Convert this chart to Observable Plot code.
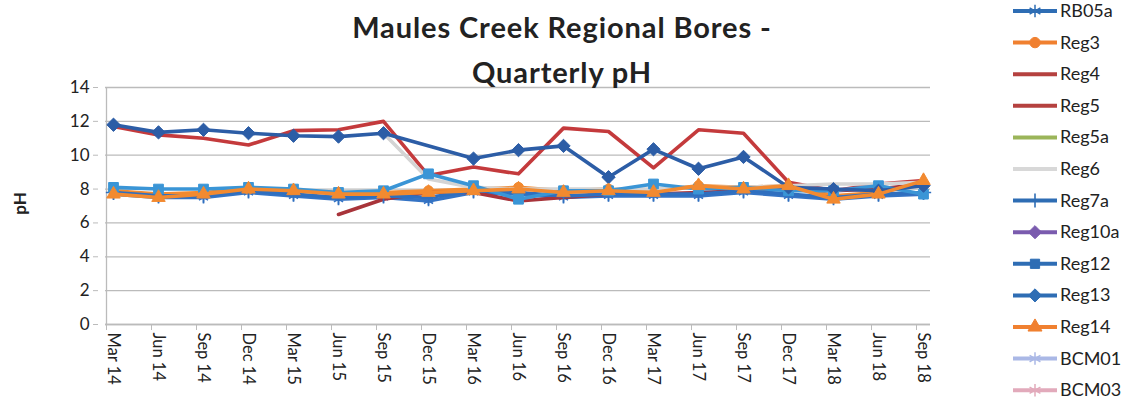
<!DOCTYPE html>
<html><head><meta charset="utf-8">
<script src="https://cdn.jsdelivr.net/npm/d3@7"></script>
<script src="https://cdn.jsdelivr.net/npm/@observablehq/plot@0.6"></script>
<style>
body{margin:0;background:#fff;font-family:Lato,"Open Sans",sans-serif;}
#wrap{position:relative;width:1131px;height:401px;overflow:hidden;background:#fff;}
#chart{position:absolute;left:0;top:0;}
.title{position:absolute;left:262px;width:600px;text-align:center;font-weight:bold;font-size:29px;letter-spacing:0.9px;color:#222;line-height:1;}
#ylab{position:absolute;left:8px;top:193px;font-weight:bold;font-size:17px;color:#222;transform:rotate(-90deg);}
#legend{position:absolute;left:1008px;top:0;}
</style></head>
<body>
<div id="wrap">
  <div id="chart"></div>
  <div class="title" style="top:12px">Maules Creek Regional Bores -</div>
  <div class="title" style="top:57px">Quarterly pH</div>
  <div id="ylab">pH</div>
  <div id="legend"></div>
</div>
<script>
const quarters = ["Mar 14","Jun 14","Sep 14","Dec 14","Mar 15","Jun 15","Sep 15","Dec 15","Mar 16","Jun 16","Sep 16","Dec 16","Mar 17","Jun 17","Sep 17","Dec 17","Mar 18","Jun 18","Sep 18"];
const yTicks = [0,2,4,6,8,10,12,14];

const RB05a  = [7.7,7.5,7.5,7.8,7.6,7.4,7.5,7.3,7.8,7.7,7.5,7.6,7.6,7.6,7.8,7.6,7.4,7.6,7.7];
const Reg3   = [7.9,7.7,7.8,8.0,7.9,7.8,7.8,7.9,8.0,8.1,7.9,8.0,7.9,8.2,8.1,8.2,7.6,7.8,8.3];
const Reg4   = [11.7,11.2,11.0,10.6,11.45,11.5,12.0,8.8,9.3,8.9,11.6,11.4,9.25,11.5,11.3,8.4,7.9,8.3,8.5];
const Reg5   = [null,null,null,null,null,6.5,7.4,7.8,7.8,7.3,7.5,7.7,7.7,7.8,7.9,8.0,7.9,8.0,8.3];
const Reg5a  = [null,null,null,null,null,null,null,null,null,null,null,null,null,null,null,null,null,null,null];
const Reg6   = [null,null,null,null,null,null,11.3,8.6,8.1,8.0,8.0,8.0,8.0,8.1,8.1,8.2,8.3,8.3,8.4];
const Reg7a  = [7.8,7.6,7.6,7.9,7.7,7.5,7.6,7.5,7.9,7.8,7.6,7.7,7.7,7.7,7.9,7.7,7.5,7.7,7.8];
const Reg10a = [null,null,null,null,null,null,null,null,null,null,null,null,null,null,null,null,null,null,null];
const Reg12  = [8.1,8.0,8.0,8.1,8.0,7.8,7.9,8.9,8.2,7.4,7.9,7.9,8.3,8.0,8.1,7.9,7.9,8.2,7.7];
const Reg13  = [11.8,11.35,11.5,11.3,11.15,11.1,11.3,null,9.8,10.3,10.55,8.7,10.35,9.2,9.9,8.1,8.0,7.9,8.2];
const Reg14  = [7.7,7.5,7.7,8.0,7.9,7.7,7.7,7.8,7.9,8.0,7.8,7.9,7.8,8.2,8.0,8.2,7.4,7.7,8.5];
const BCM01  = [null,null,null,null,null,null,null,null,null,null,null,null,null,null,null,null,null,null,null];
const BCM03  = [null,null,null,null,null,null,null,null,null,null,null,null,null,null,null,null,null,null,null];

const series = [
  {name:"RB05a", values:RB05a, color:"#3473C4", legendColor:"#2E6DB4", symbol:"asterisk"},
  {name:"Reg3", values:Reg3, color:"#F28A30", legendColor:"#F08030", symbol:"circle"},
  {name:"Reg4", values:Reg4, color:"#C43A3C", legendColor:"#B5413F", symbol:null},
  {name:"Reg5", values:Reg5, color:"#A8343A", legendColor:"#B5413F", symbol:null},
  {name:"Reg5a", values:Reg5a, color:"#9BB55A", legendColor:"#9BB55A", symbol:null},
  {name:"Reg6", values:Reg6, color:"#D4D4D4", legendColor:"#D8D8D8", symbol:null},
  {name:"Reg7a", values:Reg7a, color:"#2F6FBF", legendColor:"#2E6DB4", symbol:"plus"},
  {name:"Reg10a", values:Reg10a, color:"#7A5BAE", legendColor:"#7A5BAE", symbol:"diamond2"},
  {name:"Reg12", values:Reg12, color:"#3A95D6", legendColor:"#2E6DB4", symbol:"square"},
  {name:"Reg13", values:Reg13, color:"#2C5DA6", legendColor:"#2E6DB4", symbol:"diamond2"},
  {name:"Reg14", values:Reg14, color:"#F28A30", legendColor:"#F08030", symbol:"triangle"},
  {name:"BCM01", values:BCM01, color:"#AAB8E6", legendColor:"#AAB8E6", symbol:"asterisk"},
  {name:"BCM03", values:BCM03, color:"#E2AABB", legendColor:"#E2AABB", symbol:"asterisk"}
];
const strokeSymbols = new Set(["asterisk","plus","times"]);

const marks = [
  Plot.gridY(yTicks, {stroke:"#BBBBBB", strokeOpacity:1, strokeWidth:1.3}),
  Plot.ruleX([quarters[0]], {stroke:"#BBBBBB", strokeWidth:1.3, dx:-7}),
  Plot.ruleY([0], {stroke:"#BBBBBB", strokeWidth:1.3})
];
for (const s of series) {
  const rows = s.values.map((v,i)=>({q:quarters[i], v})).filter(d=>d.v!=null);
  if (!rows.length) continue;
  marks.push(Plot.line(rows, {x:"q", y:"v", stroke:s.color, strokeWidth:3.6, curve:"linear"}));
  if (s.symbol) {
    const isStroke = strokeSymbols.has(s.symbol);
    marks.push(Plot.dot(rows, {x:"q", y:"v", symbol:s.symbol, r: s.symbol==="square"?5.5:(s.symbol==="diamond2"?6:5),
      fill: isStroke ? "none" : s.color, stroke: s.color, strokeWidth: isStroke?1.6:1}));
  }
}
marks.push(Plot.axisY(yTicks, {tickSize:5, tickPadding:4, fontSize:17, fill:"#222", stroke:"#BBBBBB", label:null, dx:-7, textStroke:"none"}));
marks.push(Plot.axisX({tickSize:0, tickRotate:90, tickPadding:8, fontSize:16.5, fill:"#222", label:null}));
marks.push(Plot.axisX({tickSize:6, stroke:"#BBBBBB", text:null, label:null, dx:-7}));

const chart = Plot.plot({
  width:1131, height:401,
  marginLeft:105, marginRight:201, marginTop:87, marginBottom:77,
  style:{fontFamily:"Lato, 'Open Sans', sans-serif", background:"#fff"},
  x:{type:"point", domain:quarters, padding:0, axis:null},
  y:{domain:[0,14], axis:null},
  marks
});
document.getElementById("chart").append(chart);

// legend
const lg = d3.select("#legend").append("svg").attr("width",123).attr("height",401)
  .style("font-family","Lato, 'Open Sans', sans-serif");
const symMap = {asterisk:d3.symbolAsterisk, circle:d3.symbolCircle, plus:d3.symbolCross, diamond2:d3.symbolDiamond2, square:d3.symbolSquare, triangle:d3.symbolTriangle};
series.forEach((s,i)=>{
  const y = 11 + i*31.6;
  const g = lg.append("g").attr("transform",`translate(0,${y})`);
  g.append("line").attr("x1",5).attr("x2",49).attr("y1",0).attr("y2",0)
    .attr("stroke",s.legendColor).attr("stroke-width",4);
  if (s.symbol) {
    const isStroke = strokeSymbols.has(s.symbol);
    const size = s.symbol==="asterisk" ? 110 : (s.symbol==="diamond2" ? 110 : 85);
    if (s.symbol==="plus") {
      g.append("line").attr("x1",27).attr("x2",27).attr("y1",-7).attr("y2",7).attr("stroke",s.legendColor).attr("stroke-width",1.6);
    } else {
      const path = d3.symbol(symMap[s.symbol], size)();
      g.append("path").attr("d",path).attr("transform","translate(27,0)")
        .attr("fill", isStroke?"none":s.legendColor).attr("stroke",s.legendColor).attr("stroke-width", isStroke?1.5:1);
    }
  }
  g.append("text").attr("x",52).attr("y",6).attr("font-size",18).attr("fill","#222").text(s.name);
});
</script>
</body></html>
